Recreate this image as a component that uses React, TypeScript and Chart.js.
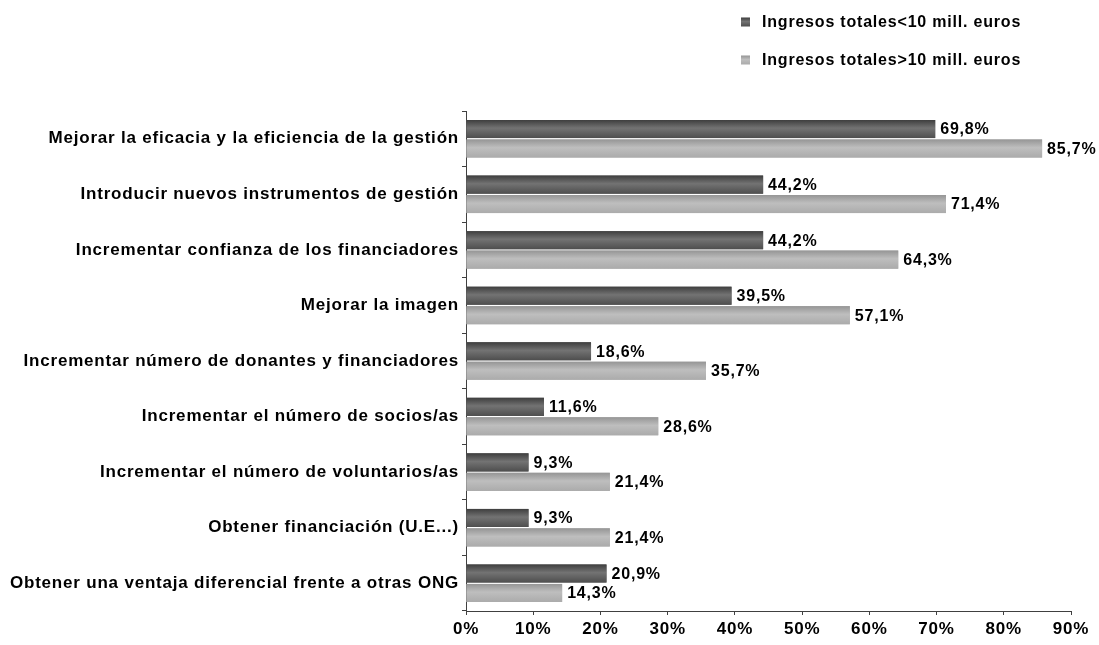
import React, { useEffect, useRef } from "react";
import { Chart, registerables } from "chart.js";

Chart.register(...registerables);

const categories: string[] = [
  "Mejorar la eficacia y la eficiencia de la gestión",
  "Introducir nuevos instrumentos de gestión",
  "Incrementar confianza de los financiadores",
  "Mejorar la imagen",
  "Incrementar número de donantes y financiadores",
  "Incrementar el número de socios/as",
  "Incrementar el número de voluntarios/as",
  "Obtener financiación (U.E...)",
  "Obtener una ventaja diferencial frente a otras ONG",
];

const seriesNames: string[] = [
  "Ingresos totales<10 mill. euros",
  "Ingresos totales>10 mill. euros",
];

const smallIncome: number[] = [69.8, 44.2, 44.2, 39.5, 18.6, 11.6, 9.3, 9.3, 20.9];
const largeIncome: number[] = [85.7, 71.4, 64.3, 57.1, 35.7, 28.6, 21.4, 21.4, 14.3];

const xMax = 90;
const xStep = 10;

const FONT = "'Liberation Sans', Arial, sans-serif";
const SPACING = "0.8px";

const gradStops: [number, string][][] = [
  [
    [0, "#3e3e3e"],
    [0.45, "#737373"],
    [1, "#4e4e4e"],
  ],
  [
    [0, "#959595"],
    [0.45, "#bebebe"],
    [1, "#ababab"],
  ],
];

function makeGrad(ctx: CanvasRenderingContext2D, y0: number, y1: number, idx: number) {
  const g = ctx.createLinearGradient(0, y0, 0, y1);
  for (const [o, c] of gradStops[idx]) g.addColorStop(o, c);
  return g;
}

const fmt = (v: number) => v.toFixed(1).replace(".", ",") + "%";

const spacingPlugin = {
  id: "spacing",
  beforeUpdate(chart: any) {
    chart.ctx.letterSpacing = SPACING;
  },
  beforeDraw(chart: any) {
    chart.ctx.letterSpacing = SPACING;
  },
};

const barsPlugin = {
  id: "barsDeco",
  afterDatasetsDraw(chart: any) {
    const ctx: CanvasRenderingContext2D = chart.ctx;
    ctx.save();
    (ctx as any).letterSpacing = SPACING;
    chart.data.datasets.forEach((ds: any, di: number) => {
      const meta = chart.getDatasetMeta(di);
      meta.data.forEach((el: any, i: number) => {
        const { x, y, base, height } = el.getProps(["x", "y", "base", "height"], true);
        const y0 = y - height / 2;
        ctx.fillStyle = makeGrad(ctx, y0, y0 + height, di);
        ctx.fillRect(base, y0, x - base, height);
        ctx.fillStyle = "#000";
        ctx.font = `bold 16px ${FONT}`;
        ctx.textAlign = "left";
        ctx.textBaseline = "middle";
        ctx.fillText(fmt(ds.data[i]), x + 5, y + 1);
      });
    });
    ctx.restore();
  },
  afterDraw(chart: any) {
    const ctx: CanvasRenderingContext2D = chart.ctx;
    ctx.save();
    (ctx as any).letterSpacing = SPACING;
    const rows = [22, 60];
    seriesNames.forEach((name, i) => {
      const cy = rows[i];
      ctx.fillStyle = makeGrad(ctx, cy - 4.5, cy + 4.5, i);
      ctx.fillRect(741, cy - 4.5, 9, 9);
      ctx.fillStyle = "#000";
      ctx.font = `bold 16px ${FONT}`;
      ctx.textAlign = "left";
      ctx.textBaseline = "middle";
      ctx.fillText(name, 762, cy + 1);
    });
    ctx.restore();
  },
};

export default function App() {
  const ref = useRef<HTMLCanvasElement | null>(null);

  useEffect(() => {
    if (!ref.current) return;
    const chart = new Chart(ref.current, {
      type: "bar",
      data: {
        labels: categories,
        datasets: [
          {
            label: seriesNames[0],
            data: smallIncome,
            backgroundColor: "#5e5e5e",
            categoryPercentage: 0.7,
            barPercentage: 0.93,
          },
          {
            label: seriesNames[1],
            data: largeIncome,
            backgroundColor: "#b0b0b0",
            categoryPercentage: 0.7,
            barPercentage: 0.93,
          },
        ],
      },
      options: {
        indexAxis: "y",
        animation: false,
        responsive: true,
        maintainAspectRatio: false,
        layout: { padding: { top: 111, right: 28, bottom: 0, left: 0 } },
        plugins: {
          legend: { display: false },
          tooltip: { enabled: false },
        },
        scales: {
          x: {
            min: 0,
            max: xMax,
            ticks: {
              stepSize: xStep,
              color: "#000",
              font: { family: FONT, size: 17, weight: "bold" },
              padding: 4,
              callback: (v: any) => v + "%",
              maxRotation: 0,
            },
            grid: {
              drawOnChartArea: false,
              drawTicks: true,
              tickLength: 4,
              color: "#404040",
            },
            border: { display: true, color: "#404040", width: 1 },
            afterFit: (s: any) => {
              s.height = 34;
            },
          },
          y: {
            ticks: {
              color: "#000",
              font: { family: FONT, size: 17, weight: "bold" },
              padding: 3,
            },
            grid: {
              drawOnChartArea: false,
              drawTicks: true,
              tickLength: 4,
              color: "#404040",
              offset: true,
            },
            border: { display: true, color: "#404040", width: 1 },
            afterFit: (s: any) => {
              s.width = 466;
            },
          },
        },
      },
      plugins: [spacingPlugin, barsPlugin],
    });
    return () => chart.destroy();
  }, []);

  return (
    <div style={{ position: "fixed", left: 0, top: 0, width: 1099, height: 645, background: "#fff" }}>
      <canvas ref={ref} />
    </div>
  );
}
